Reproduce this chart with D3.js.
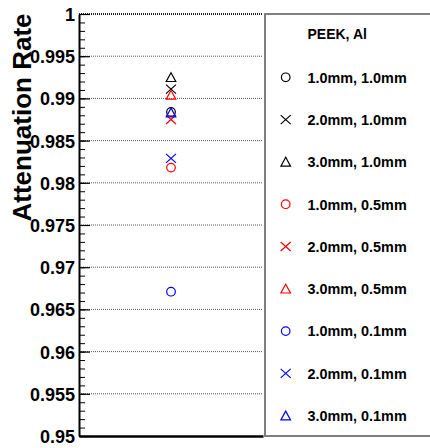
<!DOCTYPE html>
<meta charset="utf-8">
<style>

body {
  margin: 0;
  background: #fff;
}

text {
  font-family: "Liberation Sans", Arial, sans-serif;
  font-weight: bold;
}

.grid line {
  stroke: #555;
  stroke-dasharray: 1,1;
}

</style>
<body>
<script src="https://cdn.jsdelivr.net/npm/d3@7"></script>
<script>

// one sample position, nine thickness combinations (PEEK, Al)
var labels = ["1.0mm, 1.0mm", "2.0mm, 1.0mm", "3.0mm, 1.0mm",
              "1.0mm, 0.5mm", "2.0mm, 0.5mm", "3.0mm, 0.5mm",
              "1.0mm, 0.1mm", "2.0mm, 0.1mm", "3.0mm, 0.1mm"];
var shapes = ["circle", "cross", "triangle",
              "circle", "cross", "triangle",
              "circle", "cross", "triangle"];
var colors = ["#000", "#000", "#000",
              "#f00", "#f00", "#f00",
              "#00f", "#00f", "#00f"];
var rates = [0.9884, 0.9911, 0.9925,
             0.9818, 0.9875, 0.9904,
             0.9671, 0.9829, 0.9883];
var xPos = 1;

var majorTicks = d3.range(0, 11).map(function(i) { return +(0.95 + i * 0.005).toFixed(3); });
var minorTicks = d3.range(0, 51).map(function(i) { return +(0.95 + i * 0.001).toFixed(3); });
var tickLabels = ["0.95", "0.955", "0.96", "0.965", "0.97", "0.975",
                  "0.98", "0.985", "0.99", "0.995", "1"];

var width = 430,
    height = 448;

// plot frame (window.top is reserved, so prefix the names)
var pLeft = 79, pRight = 263, pTop = 14, pBottom = 436;

var svg = d3.select("body").append("svg")
    .attr("width", width)
    .attr("height", height);

var x = d3.scaleLinear().domain([0, 2]).range([pLeft, pRight]);
var y = d3.scaleLinear().domain([0.95, 1]).range([pBottom, pTop]);

// markers
var paths = {
  cross: "M-5,-4.5L5,4.5M-5,4.5L5,-4.5",
  triangle: "M0,-4.6L4.8,4.2L-4.8,4.2Z"
};

function drawMarker(sel, shape, color) {
  if (shape == "circle") {
    sel.append("circle")
        .attr("r", 4.3)
        .attr("fill", "none")
        .attr("stroke", color)
        .attr("stroke-width", 1.2);
  } else {
    sel.append("path")
        .attr("d", paths[shape])
        .attr("fill", "none")
        .attr("stroke", color)
        .attr("stroke-width", 1.2);
  }
}

// legend box
var legend = svg.append("g");

legend.append("rect")
    .attr("x", 265)
    .attr("y", pTop)
    .attr("width", 170)
    .attr("height", pBottom - pTop)
    .attr("fill", "#fff")
    .attr("stroke", "#7f7f7f")
    .attr("stroke-width", 2);

legend.append("text")
    .attr("x", 307.5)
    .attr("y", 39)
    .style("font-size", "14px")
    .text("PEEK, Al");

var rowY = d3.scaleLinear().domain([0, 8]).range([77.3, 415.7]);

labels.forEach(function(d, i) {
  var g = legend.append("g")
      .attr("transform", "translate(0," + rowY(i) + ")");
  drawMarker(g.append("g").attr("transform", "translate(285.7,0)"), shapes[i], colors[i]);
  g.append("text")
      .attr("x", 307.5)
      .attr("y", 5.3)
      .style("font-size", "14.4px")
      .text(d);
});

// grid
svg.append("g")
    .attr("class", "grid")
  .selectAll("line")
    .data(majorTicks.slice(1))
  .enter().append("line")
    .attr("x1", pLeft)
    .attr("x2", pRight)
    .attr("y1", function(d) { return y(d); })
    .attr("y2", function(d) { return y(d); })
    .style("stroke", function(d) { return d == 1 ? "#222" : null; })
    .style("stroke-width", function(d) { return d == 1 ? 2 : 1; });

// y axis: minor ticks, then major ticks with labels
var minorAxis = svg.append("g")
    .attr("transform", "translate(" + pLeft + ",0)")
    .call(d3.axisLeft(y).tickValues(minorTicks).tickSize(-6).tickSizeOuter(0).tickFormat(""));
minorAxis.select(".domain").remove();
minorAxis.selectAll("line").attr("stroke", "#000").attr("stroke-width", 1);

var yAxis = svg.append("g")
    .attr("transform", "translate(" + pLeft + ",0)")
    .call(d3.axisLeft(y)
      .tickValues(majorTicks)
      .tickSize(-11)
      .tickSizeOuter(0)
      .tickPadding(4)
      .tickFormat(function(d, i) { return tickLabels[i]; }));

yAxis.select(".domain").attr("stroke-width", 2);
yAxis.selectAll("line").attr("stroke-width", 1.2);
yAxis.selectAll("text")
    .attr("fill", "#000")
    .attr("dy", "0.36em")
    .style("font-family", "'Liberation Sans', Arial, sans-serif")
    .style("font-weight", "bold")
    .style("font-size", "18px");

// bottom axis, no ticks
var xAxis = svg.append("g")
    .attr("transform", "translate(0," + pBottom + ")")
    .call(d3.axisBottom(x).tickValues([]).tickSizeOuter(0));
xAxis.select(".domain").attr("stroke-width", 2.5);

// axis title
svg.append("text")
    .attr("transform", "translate(31,117.5) rotate(-90)")
    .attr("text-anchor", "middle")
    .style("font-size", "26px")
    .text("Attenuation Rate");

// data points
rates.forEach(function(d, i) {
  var g = svg.append("g")
      .attr("transform", "translate(" + x(xPos) + "," + y(d) + ")");
  drawMarker(g, shapes[i], colors[i]);
});

</script>
